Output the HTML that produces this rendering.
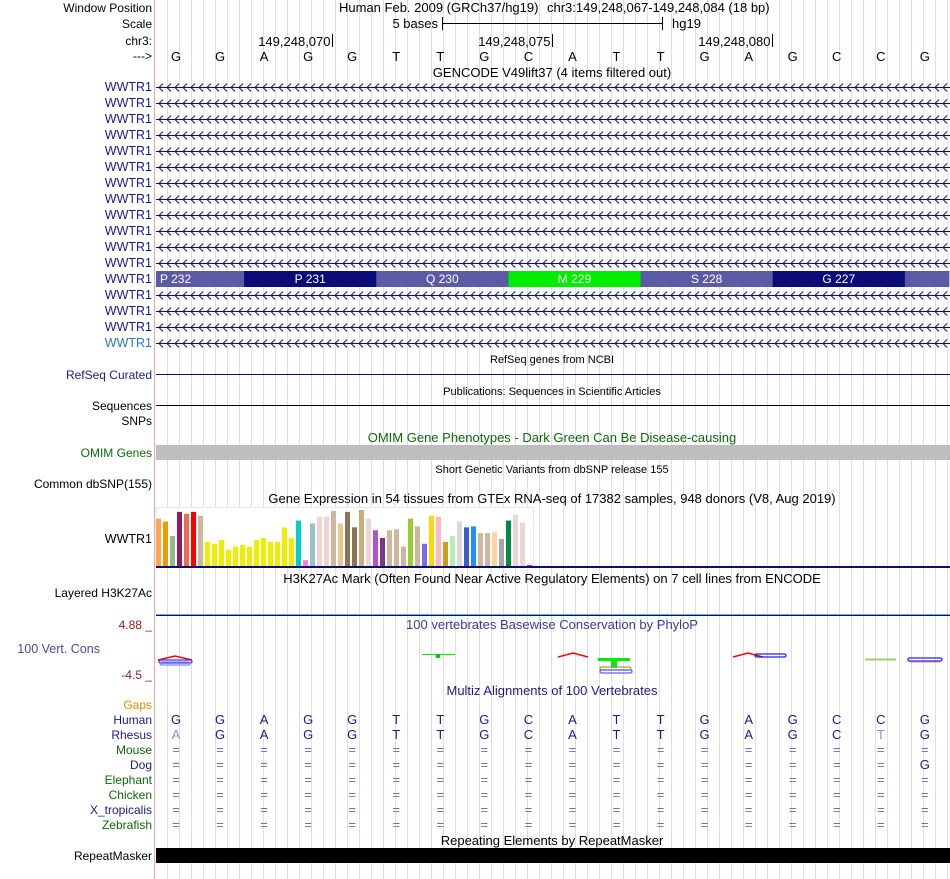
<!DOCTYPE html>
<html><head><meta charset="utf-8"><style>
html,body{margin:0;padding:0;background:#fff;}
svg{display:block;font-family:"Liberation Sans",sans-serif;}
</style></head><body>
<svg id="s" width="950" height="879" viewBox="0 0 950 879" xmlns="http://www.w3.org/2000/svg">
<defs>
<pattern id="chev" x="157" y="79" width="8" height="16" patternUnits="userSpaceOnUse">
<path d="M6,4.5 L2,8.5 L6,12.5" fill="none" stroke="#0c0c78" stroke-width="1"/>
</pattern>
</defs>
<g id="grid"></g>
<line x1="154.5" y1="0" x2="154.5" y2="879" stroke="#f4a0a0"/>
<g id="labels" font-size="12" text-anchor="end"></g>
<g id="content"></g>
</svg>
<script>
const NS='http://www.w3.org/2000/svg';
const S=document.getElementById('s');
function mk(tag,attrs,parent,txt){const e=document.createElementNS(NS,tag);for(const k in attrs)e.setAttribute(k,attrs[k]);if(txt!==undefined)e.textContent=txt;(parent||S).appendChild(e);return e;}
const grid=document.getElementById('grid'),L=document.getElementById('labels'),C=document.getElementById('content');

for(let x=167.5;x<950;x+=12){const l=mk('line',{x1:x,y1:0,x2:x,y2:879,stroke:'#dcdcf5'},grid);}

const bases=['G','G','A','G','G','T','T','G','C','A','T','T','G','A','G','C','C','G'];
const rhesus=['A','G','A','G','G','T','T','G','C','A','T','T','G','A','G','C','T','G'];
const rhesusDim=[1,0,0,0,0,0,0,0,0,0,0,0,0,0,0,0,1,0];
const dogLast='G';
const exonLabels=['P 232','P 231','Q 230','M 229','S 228','G 227',''];
const exonStarts=[0,2,5,8,11,14,17];
const exonEnds=[2,5,8,11,14,17,18];
const exonColors=['#5b5ba5','#0c0c78','#5b5ba5','#00ee00','#5b5ba5','#0c0c78','#5b5ba5'];
const gtexValues=[49,46,31,56,54,56,52,25,23,27,17,20,22,20,27,29,25,25,40,29,47,6,44,51,51,57,44,56,40,58,49,37,29,37,38,20,49,41,23,52,51,25,31,46,40,41,34,34,35,28,47,53,45,1];
const gtexColors=['#ffa54f','#ee9a00','#8fbc8f','#8b1c62','#ee6a50','#ff0000','#cdb79e','#eeee00','#eeee00','#eeee00','#eeee00','#eeee00','#eeee00','#eeee00','#eeee00','#eeee00','#eeee00','#eeee00','#eeee00','#eeee00','#00cdcd','#ee82ee','#9ac0cd','#eed5d2','#eed5d2','#cdb79e','#eec591','#8b7355','#8b7355','#cdaa7d','#eed5d2','#b452cd','#7a378b','#cdb79e','#cdb79e','#cdb79e','#9acd32','#cdb79e','#7b68ee','#ffd700','#ffb6c1','#cd9b1d','#b4eeb4','#d9d9d9','#3a5fcd','#1e90ff','#cdb79e','#cdb79e','#ffd39b','#a6a6a6','#008b45','#eed5d2','#eed5d2','#ee00ee'];
const gtexMax=60;

function bx(i){return 176+44.05*i;}
function label(y,t,col,name,size,x){const e=mk('text',{x:x||152,y:y,fill:col||'#000','font-size':size||12},L,t);return e;}
function title(y,t,col,size,x,name){const e=mk('text',{x:x||552,y:y,fill:col||'#000','font-size':size||13,'text-anchor':'middle'},C,t);return e;}

label(12,'Window Position','#000','window-position-label');
label(28,'Scale','#000','scale-label');
label(45,'chr3:','#000','chr-label');
label(60,'--->','#000','strand-label');
let t=mk('text',{x:339,y:12,'font-size':13},C,'Human Feb. 2009 (GRCh37/hg19)');
t=mk('text',{x:547,y:12,'font-size':13},C,'chr3:149,248,067-149,248,084 (18 bp)');
t=mk('text',{x:438,y:28,'font-size':13,'text-anchor':'end'},C,'5 bases');
mk('path',{d:'M442.5,17 V30 M442.5,23.5 H662.5 M662.5,17 V30',stroke:'#000',fill:'none'},C);
t=mk('text',{x:672,y:28,'font-size':13},C,'hg19');
const ticks=['149,248,070','149,248,075','149,248,080'];
ticks.forEach((tk,i)=>{const x=332.5+220*i;const e=mk('text',{x:x-2,y:46,'font-size':13,'text-anchor':'end'},C,tk);mk('line',{x1:x,y1:34,x2:x,y2:47,stroke:'#000'},C);});
bases.forEach((b,i)=>{const e=mk('text',{x:bx(i),y:61,'font-size':13,'text-anchor':'middle'},C,b);});

title(77,'GENCODE V49lift37 (4 items filtered out)','#000',13,552,'gencode-title');
for(let k=0;k<17;k++){const y=87+16*k;
  label(y+4,'WWTR1',k==16?'#2a7ab8':'#1a1a8c','gene-label-wwtr1',12.5);
  if(k==12){
    exonLabels.forEach((el,j)=>{const x1=156+44.05*exonStarts[j],x2=156+44.05*exonEnds[j];
      const r=mk('rect',{x:x1,y:271,width:x2-x1+0.5,height:16,fill:exonColors[j]},C);
      if(el){const tx=mk('text',{x:(x1+x2)/2,y:283,'font-size':12,fill:'#fff','text-anchor':'middle'},C,el);if(j==0){tx.setAttribute('x',x1+4);tx.setAttribute('text-anchor','start');}}
    });
  } else {
    const g=mk('rect',{x:156,y:y-4,width:794,height:9,fill:'url(#chev)'},C);
    mk('line',{x1:156,y1:y+0.5,x2:950,y2:y+0.5,stroke:'#0c0c78'},C);
  }
}

title(363,'RefSeq genes from NCBI','#000',11,552,'refseq-title');
label(379,'RefSeq Curated','#1a1a8c','refseq-label');
mk('line',{x1:156,y1:374.5,x2:950,y2:374.5,stroke:'#0c0c78'},C);
title(395,'Publications: Sequences in Scientific Articles','#000',11,552,'publications-title');
label(410,'Sequences','#000','sequences-label');
mk('line',{x1:156,y1:405.5,x2:950,y2:405.5,stroke:'#000'},C);
label(425,'SNPs','#000','snps-label');
title(442,'OMIM Gene Phenotypes - Dark Green Can Be Disease-causing','#0a6a0a',13,552,'omim-title');
label(457,'OMIM Genes','#0a6a0a','omim-label');
mk('rect',{x:156,y:445,width:794,height:15,fill:'#bebebe'},C);
title(473,'Short Genetic Variants from dbSNP release 155','#000',11,552,'dbsnp-title');
label(488,'Common dbSNP(155)','#000','dbsnp-label');

title(503,'Gene Expression in 54 tissues from GTEx RNA-seq of 17382 samples, 948 donors (V8, Aug 2019)','#000',13,552,'gtex-title');
label(543,'WWTR1','#000','gtex-label',12.5);
mk('rect',{x:156.5,y:507.5,width:377,height:59,fill:'#fff',stroke:'#e8e8e8'},C);
const gy=v=>566-v/gtexMax*58;
gtexValues.forEach((v,i)=>{const r=mk('rect',{x:156+7*i,y:gy(v),width:5,height:566-gy(v),fill:gtexColors[i]},C);});
mk('rect',{x:156,y:566,width:794,height:2,fill:'#0c0c78'},C);

title(583,'H3K27Ac Mark (Often Found Near Active Regulatory Elements) on 7 cell lines from ENCODE','#000',13,552,'h3k27ac-title');
label(597,'Layered H3K27Ac','#000','h3k27ac-label');
mk('line',{x1:156,y1:614.5,x2:950,y2:614.5,stroke:'#5ab4e6'},C);
mk('line',{x1:156,y1:615.5,x2:950,y2:615.5,stroke:'#0c0c78'},C);

label(629,'4.88 _','#8b2020','phylop-max-label',12);
title(629,'100 vertebrates Basewise Conservation by PhyloP','#3a3a9a',13,552,'phylop-title');
label(653,'100 Vert. Cons','#4a4a9a','phylop-label',12.5,100);
label(679,'-4.5 _','#8b2020','phylop-min-label',12);
const cons=mk('g',{},C);
function arc(x,y,w,col){mk('path',{d:`M${x},${y} L${x+w/2},${y-4} L${x+w},${y}`,stroke:col,'stroke-width':1.5,fill:'none'},cons);}
function pill(x,y,w,col){mk('rect',{x:x,y:y,width:w,height:3,rx:1.5,fill:'none',stroke:col,'stroke-width':1.3},cons);}
arc(158,660,34,'#ff0000');pill(159,660,33,'#3a3af0');pill(160,662,30,'#8080ff');
mk('line',{x1:422,y1:654.5,x2:455,y2:654.5,stroke:'#00ee00'},cons);mk('rect',{x:436,y:654,width:4,height:4,fill:'#00cc00'},cons);
arc(558,657,30,'#ff0000');
mk('rect',{x:598,y:658,width:32,height:3,fill:'#00ee00'},cons);mk('rect',{x:611,y:660,width:6,height:8,fill:'#00ee00'},cons);
pill(600,667,31,'#a0a040');pill(600,670,32,'#6060e0');
arc(733,657,30,'#ff0000');pill(755,654,31,'#2020f0');
mk('line',{x1:865,y1:659.5,x2:896,y2:659.5,stroke:'#a0d060','stroke-width':2},cons);
pill(908,658,34,'#2020f0');mk('line',{x1:910,y1:662,x2:940,y2:662,stroke:'#ff8080'},cons);

title(695,'Multiz Alignments of 100 Vertebrates','#1a1a8c',13,552,'multiz-title');
label(709,'Gaps','#ee8800','gaps-label');
const species=['Human','Rhesus','Mouse','Dog','Elephant','Chicken','X_tropicalis','Zebrafish'];
const spCol=['#1a1a8c','#1a1a8c','#0a6a0a','#1a1a8c','#0a6a0a','#0a6a0a','#1a1a8c','#0a6a0a'];
species.forEach((sp,k)=>{const y=724+15*k;label(y,sp,spCol[k],'species-label');
  bases.forEach((b,i)=>{let ch,col='#1a1a8c';
    if(k==0)ch=b;else if(k==1){ch=rhesus[i];if(rhesusDim[i])col='#9090c0';}
    else if(k==3&&i==17)ch=dogLast;else{ch='=';col='#7070b0';}
    const e=mk('text',{x:bx(i),y:y,'font-size':13,fill:col,'text-anchor':'middle'},C,ch);});
});

title(845,'Repeating Elements by RepeatMasker','#000',13,552,'repeatmasker-title');
label(860,'RepeatMasker','#000','repeatmasker-label');
mk('rect',{x:156,y:848,width:794,height:15,fill:'#000'},C);
</script>
</body></html>
